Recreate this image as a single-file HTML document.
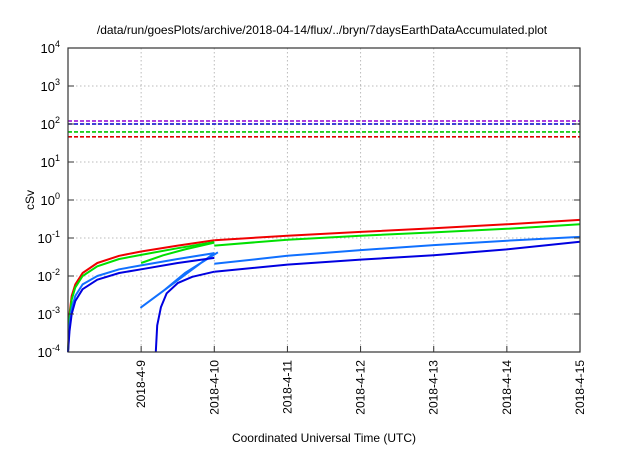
<!DOCTYPE html>
<html><head><meta charset="utf-8"><style>
body{margin:0;background:#fff}
svg{font-family:"Liberation Sans",sans-serif}
</style></head><body>
<svg width="640" height="448" viewBox="0 0 640 448" id="c">
<text x="322" y="34" font-size="12" text-anchor="middle">/data/run/goesPlots/archive/2018-04-14/flux/../bryn/7daysEarthDataAccumulated.plot</text>
<text x="34" y="200" font-size="12" text-anchor="middle" transform="rotate(-90 34 200)">cSv</text>
<text x="324" y="442" font-size="12" text-anchor="middle">Coordinated Universal Time (UTC)</text>
<g id="grid"></g><g id="series"></g><g id="axes"></g>
</svg>
<script>
const dayTicks=[9,10,11,12,13,14,15];
const dayLabels=["2018-4-9","2018-4-10","2018-4-11","2018-4-12","2018-4-13","2018-4-14","2018-4-15"];
const decades=[-4,-3,-2,-1,0,1,2,3,4];
const thresholdValues=[120,100,62,46];
const thresholdColors=["#9400d3","#0000c8","#00c800","#e00000"];
const redA=[[8.0,1e-4],[8.02,1e-3],[8.05,3e-3],[8.1,6e-3],[8.2,1.2e-2],[8.4,2.2e-2],[8.7,3.4e-2],[9,4.4e-2],[9.5,6.3e-2],[10,0.087]];
const redB=[[10,0.087],[11,0.115],[12,0.145],[13,0.18],[14,0.23],[15,0.3]];
const greenA=[[8.0,1e-4],[8.02,8e-4],[8.05,2.4e-3],[8.1,5e-3],[8.2,1e-2],[8.4,1.8e-2],[8.7,2.8e-2],[9,3.6e-2],[9.5,5.4e-2],[10,0.078]];
const greenB=[[9,0.022],[9.3,0.035],[9.6,0.05],[10,0.075]];
const greenC=[[10,0.063],[11,0.09],[12,0.115],[13,0.14],[14,0.175],[15,0.23]];
const ltblueA=[[8.0,1e-4],[8.02,5e-4],[8.05,1.4e-3],[8.1,3e-3],[8.2,6e-3],[8.4,1e-2],[8.7,1.5e-2],[9,1.9e-2],[9.5,2.8e-2],[10,0.04]];
const ltblueB=[[10,0.04],[9,1.5e-3],[9.3,4e-3],[9.6,1.2e-2],[10.05,0.042]];
const ltblueC=[[10,0.021],[10.6,0.028],[11,0.034],[12,0.048],[13,0.065],[14,0.085],[15,0.107]];
const dblueA=[[8.0,1e-4],[8.02,3.5e-4],[8.05,1e-3],[8.1,2.2e-3],[8.2,4.5e-3],[8.4,8e-3],[8.7,1.2e-2],[9,1.5e-2],[9.5,2.2e-2],[10,0.03]];
const dblueB=[[9.2,1e-4],[9.22,5e-4],[9.27,1.5e-3],[9.35,3.5e-3],[9.5,6.5e-3],[9.7,9.5e-3],[10,0.013]];
const dblueC=[[10,0.013],[11,0.02],[12,0.027],[13,0.035],[14,0.05],[15,0.08]];
const X0=68,X1=580,Y0=48,Y1=352,DMIN=8.0,DMAX=15;
const xs=d=>X0+(d-DMIN)/(DMAX-DMIN)*(X1-X0);
const ys=v=>Y1-(Math.log10(v)+4)/8*(Y1-Y0);
const NS="http://www.w3.org/2000/svg";
function mk(tag,parent,attrs){const e=document.createElementNS(NS,tag);for(const k in attrs)e.setAttribute(k,attrs[k]);document.getElementById(parent).appendChild(e);return e;}
dayTicks.forEach((d,i)=>{const x=xs(d);
 const g=mk('line','grid',{x1:x,x2:x,y1:Y0,y2:Y1,stroke:'#bbb','stroke-dasharray':'1.5,2.5'});
 
 const t=mk('line','axes',{x1:x,x2:x,y1:Y1,y2:Y1-6,stroke:'#333'});
 
 const lb=mk('text','axes',{x:x+4,y:Y1+8,'font-size':12,'text-anchor':'end',transform:`rotate(-90 ${x+4} ${Y1+8})`});
 lb.textContent=dayLabels[i];
 
});
decades.forEach(p=>{const y=ys(Math.pow(10,p));
 const g=mk('line','grid',{x1:X0,x2:X1,y1:y,y2:y,stroke:'#bbb','stroke-dasharray':'1.5,2.5'});
 
 const t=mk('line','axes',{x1:X0,x2:X0+6,y1:y,y2:y,stroke:'#333'});
 
 const t2=mk('line','axes',{x1:X1,x2:X1-6,y1:y,y2:y,stroke:'#333'});
 
 const lb=mk('text','axes',{x:X0-8,y:y+5,'font-size':13,'text-anchor':'end'});
 lb.innerHTML='10<tspan dy="-6" font-size="9">'+p+'</tspan>';
 
});
thresholdValues.forEach((v,i)=>{const y=ys(v);
 const l=mk('line','series',{x1:X0,x2:X1,y1:y,y2:y,stroke:thresholdColors[i],'stroke-width':1.6,'stroke-dasharray':'4,2'});
 
});
const curves=[[redA,'#f00000','red'],[redB,'#f00000','red'],[greenA,'#00e000','green'],[greenB,'#00e000','green'],[greenC,'#00e000','green'],
[ltblueA,'#1070ff','light-blue'],[ltblueB,'#1070ff','light-blue'],[ltblueC,'#1070ff','light-blue'],[dblueA,'#0000e0','dark-blue'],[dblueB,'#0000e0','dark-blue'],[dblueC,'#0000e0','dark-blue']];
curves.forEach(([pts,col,nm])=>{
 const p=mk('polyline','series',{points:pts.map(q=>xs(q[0]).toFixed(1)+','+ys(q[1]).toFixed(1)).join(' '),fill:'none',stroke:col,'stroke-width':2,'stroke-linejoin':'round'});
 
});
const fr=mk('rect','axes',{x:X0,y:Y0,width:X1-X0,height:Y1-Y0,fill:'none',stroke:'#333','stroke-width':1.2});

</script>
</body></html>
